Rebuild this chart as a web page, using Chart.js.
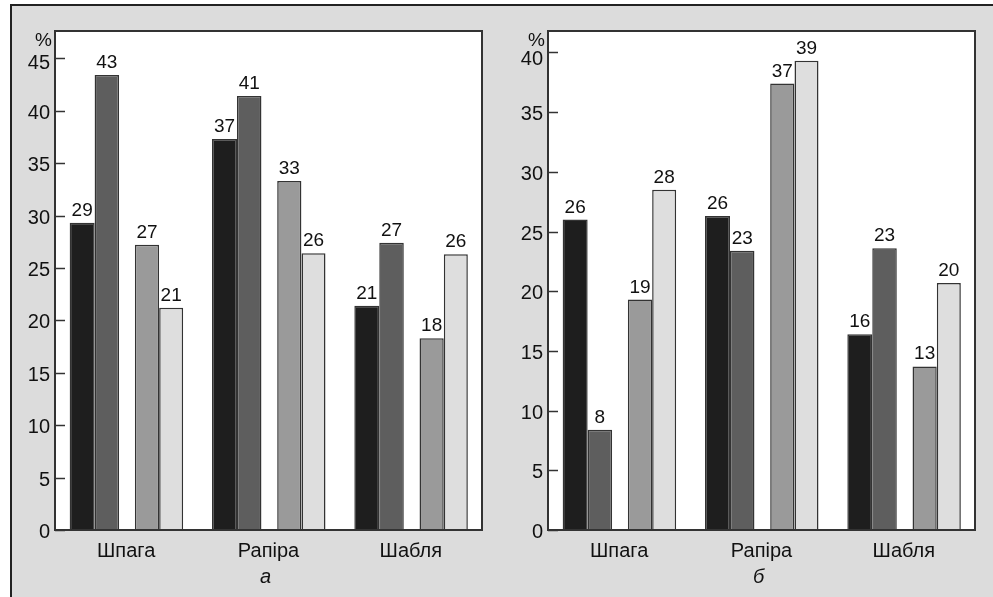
<!DOCTYPE html>
<html><head><meta charset="utf-8">
<script src="https://cdn.jsdelivr.net/npm/chart.js@4.4.1/dist/chart.umd.min.js"></script>
<style>
html,body{margin:0;padding:0;background:#fff;width:993px;height:597px;overflow:hidden;}
#frame{position:absolute;left:10px;top:4px;width:1000px;height:620px;background:#dcdcdc;border-left:2px solid #222;border-top:2px solid #222;box-sizing:border-box;}
.box{position:absolute;}
</style></head><body>
<div id="frame"></div>
<div class="box" style="left:11px;top:5px;width:482px;height:592px"><canvas id="ca"></canvas></div>
<div class="box" style="left:493px;top:5px;width:500px;height:592px"><canvas id="cb"></canvas></div>
<script>
const categories = ['Шпага', 'Рапіра', 'Шабля'];
const seriesColors = ['#1e1e1e', '#5e5e5e', '#9a9a9a', '#dedede'];

// Panel а
const a_s1 = [29.3, 37.3, 21.4];
const a_s2 = [43.4, 41.4, 27.4];
const a_s3 = [27.2, 33.3, 18.3];
const a_s4 = [21.2, 26.4, 26.3];
const a_l1 = ['29', '37', '21'];
const a_l2 = ['43', '41', '27'];
const a_l3 = ['27', '33', '18'];
const a_l4 = ['21', '26', '26'];
const a_yTicks = [0, 5, 10, 15, 20, 25, 30, 35, 40, 45];
const a_yMax = 47.6;

// Panel б
const b_s1 = [26.0, 26.3, 16.4];
const b_s2 = [8.4, 23.4, 23.6];
const b_s3 = [19.3, 37.4, 13.7];
const b_s4 = [28.5, 39.3, 20.7];
const b_l1 = ['26', '26', '16'];
const b_l2 = ['8', '23', '23'];
const b_l3 = ['19', '37', '13'];
const b_l4 = ['28', '39', '20'];
const b_yTicks = [0, 5, 10, 15, 20, 25, 30, 35, 40];
const b_yMax = 41.8;

// bar slot styling (per-series category/bar percentages -> uneven gap between pairs)
const barStyle = [
  {categoryPercentage: 0.8245, barPercentage: 0.852},
  {categoryPercentage: 1.085, barPercentage: 0.635},
  {categoryPercentage: 1.169, barPercentage: 0.582},
  {categoryPercentage: 0.843, barPercentage: 0.80}
];

const FONT = '"Liberation Sans", Arial, sans-serif';
const TXT = '#111';

const deco = {
  id: 'deco',
  beforeDraw(chart) {
    const {ctx, chartArea: a} = chart;
    ctx.save();
    ctx.fillStyle = '#fff';
    ctx.fillRect(a.left, a.top, a.right - a.left, a.bottom - a.top);
    ctx.restore();
  },
  afterDatasetsDraw(chart) {
    const {ctx, chartArea: a} = chart;
    const o = chart.options.plugins.deco;
    ctx.save();
    // value labels
    ctx.font = '19px ' + FONT;
    ctx.fillStyle = TXT;
    ctx.textAlign = 'center';
    ctx.textBaseline = 'alphabetic';
    chart.data.datasets.forEach((ds, i) => {
      if (!ds.valueLabels) return;
      chart.getDatasetMeta(i).data.forEach((el, j) => {
        ctx.fillText(ds.valueLabels[j], el.x, el.y - 7);
      });
    });
    // plot frame
    ctx.strokeStyle = '#333';
    ctx.lineWidth = 2;
    ctx.strokeRect(a.left, a.top, a.right - a.left, a.bottom - a.top);
    // inward y ticks and their labels
    const y = chart.scales.y;
    ctx.lineWidth = 1.5;
    ctx.font = '20px ' + FONT;
    ctx.textAlign = 'right';
    ctx.textBaseline = 'middle';
    y.ticks.forEach((t, k) => {
      const py = Math.round(y.getPixelForValue(t.value)) + 0.5;
      ctx.beginPath();
      ctx.moveTo(a.left, py);
      ctx.lineTo(a.left + 10, py);
      ctx.stroke();
      const shift = 1.5 + (k === y.ticks.length - 1 ? o.topShift : 0);
      ctx.fillText(String(t.value), a.left - 5, py + shift);
    });
    // unit sign
    ctx.textBaseline = 'alphabetic';
    ctx.font = '19px ' + FONT;
    ctx.fillText('%', a.left - 3, a.top + 15);
    // panel letter
    ctx.font = 'italic 20px ' + FONT;
    ctx.textAlign = 'center';
    ctx.fillText(o.subtitle, (a.left + a.right) / 2 - 3, a.bottom + 53);
    ctx.restore();
  }
};

function makeChart(id, series, labels, yTicks, yMax, subtitle, topShift, yW, padR) {
  const datasets = series.map((s, i) => Object.assign({
    data: s, valueLabels: labels[i], backgroundColor: seriesColors[i],
    borderColor: '#333', borderWidth: 1.5
  }, barStyle[i]));
  new Chart(document.getElementById(id), {
    type: 'bar',
    data: {labels: categories, datasets},
    options: {
      responsive: true, maintainAspectRatio: false, animation: false,
      layout: {padding: {top: 26, right: padR, left: 0, bottom: 0}},
      plugins: {legend: {display: false}, tooltip: {enabled: false}, deco: {subtitle, topShift}},
      scales: {
        x: {
          grid: {display: false, drawTicks: false}, border: {display: false},
          ticks: {font: {family: FONT, size: 20}, color: TXT, padding: 9},
          afterFit(s) { s.height = 67; }
        },
        y: {
          min: 0, max: yMax,
          grid: {display: false, drawTicks: false}, border: {display: false},
          ticks: {display: false},
          afterBuildTicks(s) { s.ticks = yTicks.map(v => ({value: v})); },
          afterFit(s) { s.width = yW; }
        }
      }
    },
    plugins: [deco]
  });
}

makeChart('ca', [a_s1, a_s2, a_s3, a_s4], [a_l1, a_l2, a_l3, a_l4], a_yTicks, a_yMax, 'а', 3, 44, 11);
makeChart('cb', [b_s1, b_s2, b_s3, b_s4], [b_l1, b_l2, b_l3, b_l4], b_yTicks, b_yMax, 'б', 5.5, 55, 18);
</script>
</body></html>
